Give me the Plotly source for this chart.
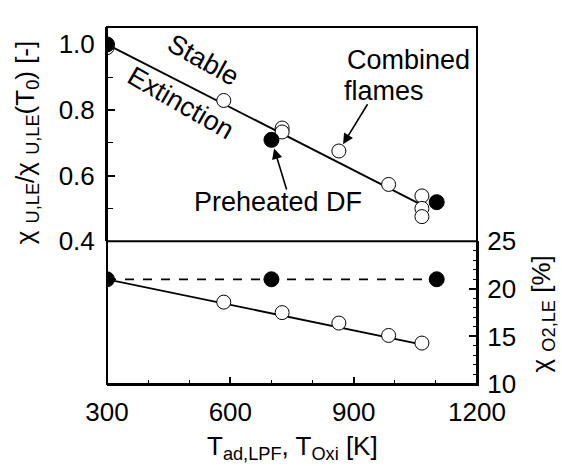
import plotly.graph_objects as go

# Upper panel: normalised extinction mole fraction
comb_T = [300, 584, 726, 726, 864, 985, 1066, 1066, 1066]
comb_ratio = [0.99, 0.829, 0.745, 0.733, 0.675, 0.573, 0.538, 0.500, 0.475]
pre_T = [300, 700, 1102]
pre_ratio = [1.0, 0.709, 0.519]
fit_T = [300, 1082]
fit_ratio = [1.0, 0.50]

# Lower panel: oxygen mole fraction at extinction [%]
oxi_T = [300, 700, 1102]
oxi_O2 = [21.0, 21.0, 21.0]
comb_O2_T = [584, 726, 864, 985, 1066]
comb_O2 = [18.6, 17.5, 16.4, 15.1, 14.3]
fit_O2_T = [300, 1070]
fit_O2 = [21.0, 14.1]

x_ticks = [300, 600, 900, 1200]
y_ticks = [0.4, 0.6, 0.8, 1.0]
y2_ticks = [10, 15, 20, 25]

FONT = "Liberation Sans"
BLACK = "black"

open_marker = dict(symbol="circle", size=14, color="white",
                   line=dict(color=BLACK, width=1))
fill_marker = dict(symbol="circle", size=15, color=BLACK,
                   line=dict(color=BLACK, width=1))

fig = go.Figure()

# upper panel
fig.add_trace(go.Scatter(x=fit_T, y=fit_ratio, mode="lines",
                         line=dict(color=BLACK, width=1.8),
                         xaxis="x", yaxis="y", showlegend=False))
fig.add_trace(go.Scatter(x=comb_T, y=comb_ratio, mode="markers",
                         marker=open_marker, xaxis="x", yaxis="y",
                         showlegend=False))
fig.add_trace(go.Scatter(x=pre_T, y=pre_ratio, mode="markers",
                         marker=fill_marker, xaxis="x", yaxis="y",
                         showlegend=False))

# lower panel
fig.add_trace(go.Scatter(x=oxi_T, y=oxi_O2, mode="lines+markers",
                         line=dict(color=BLACK, width=1.8, dash="dash"),
                         marker=fill_marker, xaxis="x", yaxis="y2",
                         showlegend=False))
fig.add_trace(go.Scatter(x=fit_O2_T, y=fit_O2, mode="lines",
                         line=dict(color=BLACK, width=1.8),
                         xaxis="x", yaxis="y2", showlegend=False))
fig.add_trace(go.Scatter(x=comb_O2_T, y=comb_O2, mode="markers",
                         marker=open_marker, xaxis="x", yaxis="y2",
                         showlegend=False))

tick_font = dict(family=FONT, size=26, color=BLACK)

fig.update_layout(
    width=562, height=466,
    margin=dict(l=107, r=85, t=14, b=82),
    paper_bgcolor="white", plot_bgcolor="white",
    font=dict(family=FONT, color=BLACK),
    xaxis=dict(range=[300, 1200], tickvals=x_ticks, ticktext=[str(v) for v in x_ticks],
               ticks="inside", ticklen=7, tickwidth=1.5, tickcolor=BLACK,
               minor=dict(dtick=100, ticks="inside", ticklen=4, tickwidth=1.2, tickcolor=BLACK),
               showgrid=False, zeroline=False, showline=True, linecolor=BLACK,
               linewidth=2, anchor="y2", tickfont=tick_font, ticklabelstandoff=4),
    yaxis=dict(domain=[0.4, 1.0], range=[0.4, 1.053], tickvals=y_ticks,
               ticktext=[f"{v:.1f}" for v in y_ticks],
               ticks="inside", ticklen=8, tickwidth=1.5, tickcolor=BLACK,
               minor=dict(dtick=0.1, ticks="inside", ticklen=6, tickwidth=1.2, tickcolor=BLACK),
               showgrid=False, zeroline=False, showline=True, linecolor=BLACK,
               linewidth=2, anchor="x", tickfont=tick_font, ticklabelstandoff=5),
    yaxis2=dict(domain=[0.0, 0.4], range=[10, 25], tickvals=y2_ticks,
                ticktext=[str(v) for v in y2_ticks], side="right",
                ticks="inside", ticklen=8, tickwidth=1.5, tickcolor=BLACK,
                minor=dict(dtick=1, ticks="inside", ticklen=4, tickwidth=1.2, tickcolor=BLACK),
                showgrid=False, zeroline=False, showline=True, linecolor=BLACK,
                linewidth=2, anchor="x", tickfont=tick_font, ticklabelstandoff=3),
)

# frame around both panels and divider between them
fig.add_shape(type="rect", xref="paper", yref="paper", x0=0, x1=1, y0=0, y1=1,
              line=dict(color=BLACK, width=2), layer="above")
fig.add_shape(type="line", xref="paper", yref="paper", x0=0, x1=1, y0=0.4, y1=0.4,
              line=dict(color=BLACK, width=2), layer="above")

ann_font = dict(family=FONT, size=27, color=BLACK)

# rotated labels along the fit line
fig.add_annotation(x=534, y=0.952, xref="x", yref="y", text="Stable",
                   textangle=29, showarrow=False, font=ann_font)
fig.add_annotation(x=479, y=0.82, xref="x", yref="y", text="Extinction",
                   textangle=30, showarrow=False, font=ann_font)

# callouts
fig.add_annotation(x=880, y=0.952, xref="x", yref="y", text="Combined",
                   xanchor="left", showarrow=False, font=ann_font)
fig.add_annotation(x=871, y=0.858, xref="x", yref="y", text="flames",
                   xanchor="left", showarrow=False, font=ann_font)
fig.add_annotation(x=864, y=0.675, xref="x", yref="y", ax=936, ay=0.822,
                   axref="x", ayref="y", text="", showarrow=True,
                   arrowhead=2, arrowsize=1.3, arrowwidth=1.6, arrowcolor=BLACK, standoff=8)
fig.add_annotation(x=717, y=0.518, xref="x", yref="y", text="Preheated DF",
                   showarrow=False, font=ann_font)
fig.add_annotation(x=700, y=0.709, xref="x", yref="y", ax=738, ay=0.553,
                   axref="x", ayref="y", text="", showarrow=True,
                   arrowhead=2, arrowsize=1.3, arrowwidth=1.6, arrowcolor=BLACK, standoff=9)

# axis titles
title_font = dict(family=FONT, size=26, color=BLACK)
fig.add_annotation(x=-0.219, y=0.677, xref="paper", yref="paper",
                   xanchor="center", yanchor="middle",
                   text="χ <sub>U,LE</sub>/χ <sub>U,LE</sub>(T<sub>0</sub>) [-]",
                   textangle=-90, showarrow=False, font=title_font)
fig.add_annotation(x=1.176, y=0.195, xref="paper", yref="paper",
                   xanchor="center", yanchor="middle",
                   text="χ <sub>O2,LE</sub> [%]",
                   textangle=-90, showarrow=False, font=title_font)
fig.add_annotation(x=0.501, y=-0.178, xref="paper", yref="paper",
                   xanchor="center", yanchor="middle",
                   text="T<sub>ad,LPF</sub>, T<sub>Oxi</sub> [K]",
                   showarrow=False, font=title_font)

fig.write_html("out.html")
